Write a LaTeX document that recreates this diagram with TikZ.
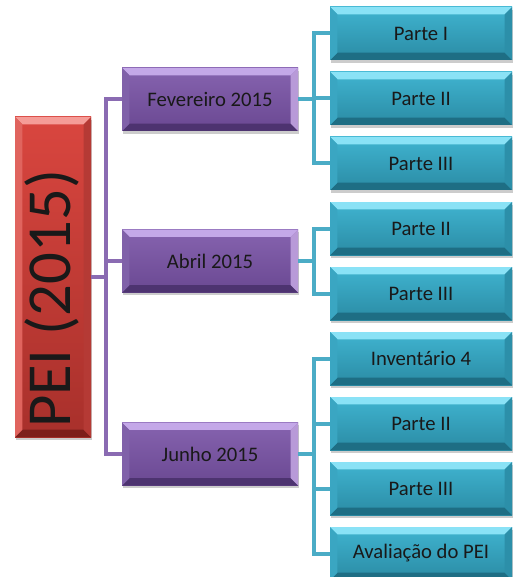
\documentclass[tikz,border=0pt]{standalone}
\usepackage{fontspec}
\setmainfont{Carlito}
\usetikzlibrary{shadows}
\definecolor{tealtop}{HTML}{40B4D0}
\definecolor{tealbot}{HTML}{2A8BA4}
\definecolor{teallight}{HTML}{8AE2F6}
\definecolor{tealdark}{HTML}{1E6E84}
\definecolor{tealleft}{HTML}{3AA6C2}
\definecolor{tealright}{HTML}{2C8FA9}
\definecolor{purtop}{HTML}{8663AF}
\definecolor{purbot}{HTML}{6A4892}
\definecolor{purlight}{HTML}{C4A8E8}
\definecolor{purdark}{HTML}{4D3370}
\definecolor{purleft}{HTML}{8061A9}
\definecolor{purright}{HTML}{B89AD8}
\definecolor{redtop}{HTML}{D9463F}
\definecolor{redbot}{HTML}{A8302B}
\definecolor{redlight}{HTML}{F59C97}
\definecolor{reddark}{HTML}{7D1F1B}
\definecolor{redleft}{HTML}{E0645E}
\definecolor{redright}{HTML}{B53A35}
\definecolor{pline}{HTML}{8A6BB2}
\definecolor{tline}{HTML}{4BACC6}
\tikzset{
  bevelbox/.style n args={6}{
    rectangle, inner sep=0pt, draw=none, top color=#1, bottom color=#2,
    drop shadow={shadow xshift=1pt, shadow yshift=-2pt, opacity=0.2, fill=black},
    path picture={
      \fill[#3] (path picture bounding box.north west) -- (path picture bounding box.north east)
        -- ([shift={(-5.5pt,-5.5pt)}]path picture bounding box.north east)
        -- ([shift={(5.5pt,-5.5pt)}]path picture bounding box.north west) -- cycle;
      \fill[#4] (path picture bounding box.south west) -- (path picture bounding box.south east)
        -- ([shift={(-5.5pt,5.5pt)}]path picture bounding box.south east)
        -- ([shift={(5.5pt,5.5pt)}]path picture bounding box.south west) -- cycle;
      \fill[#5] (path picture bounding box.north west) -- ([shift={(5.5pt,-5.5pt)}]path picture bounding box.north west)
        -- ([shift={(5.5pt,5.5pt)}]path picture bounding box.south west)
        -- (path picture bounding box.south west) -- cycle;
      \fill[#6] (path picture bounding box.north east) -- ([shift={(-5.5pt,-5.5pt)}]path picture bounding box.north east)
        -- ([shift={(-5.5pt,5.5pt)}]path picture bounding box.south east)
        -- (path picture bounding box.south east) -- cycle;
    }
  },
  tealbox/.style={bevelbox={tealtop}{tealbot}{teallight}{tealdark}{tealleft}{tealright},
    minimum width=136.5pt, minimum height=39.75pt, font=\fontsize{15.5}{17}\selectfont, text=black!90},
  purbox/.style={bevelbox={purtop}{purbot}{purlight}{purdark}{purleft}{purright},
    minimum width=132pt, minimum height=47.25pt, font=\fontsize{15.5}{17}\selectfont, text=black!90},
  redbox/.style={bevelbox={redtop}{redbot}{redlight}{reddark}{redleft}{redright},
    minimum width=57pt, minimum height=240pt},
  pconn/.style={draw=pline, line width=3pt},
  tconn/.style={draw=tline, line width=3pt}
}
\begin{document}
\begin{tikzpicture}[x=0.75pt,y=-0.75pt]
\useasboundingbox (0,0) rectangle (513,577);
% root
\node[redbox] (pei) at (53,277) {};
\node[rotate=90, font=\fontsize{47}{48}\selectfont, text=black!90, inner sep=0pt] (peitext) at (52,299) {PEI (2015)};
% months
\node[purbox] (feb) at (210,99.5) {Fevereiro 2015};
\node[purbox] (abr) at (210,261) {Abril 2015};
\node[purbox] (jun) at (210,454) {Junho 2015};
% parts
\node[tealbox] (f1) at (421,33.5) {Parte I};
\node[tealbox] (f2) at (421,98.5) {Parte II};
\node[tealbox] (f3) at (421,163.5) {Parte III};
\node[tealbox] (a1) at (421,228.5) {Parte II};
\node[tealbox] (a2) at (421,293.5) {Parte III};
\node[tealbox] (j1) at (421,358.5) {Inventário 4};
\node[tealbox] (j2) at (421,423.5) {Parte II};
\node[tealbox] (j3) at (421,488.5) {Parte III};
\node[tealbox] (j4) at (421,553.5) {Avaliação do PEI};
% connectors
\draw[pconn] (pei.east) -- ++(15,0) |- (feb.west);
\draw[pconn] (pei.east) -- ++(15,0) |- (abr.west);
\draw[pconn] (pei.east) -- ++(15,0) |- (jun.west);
\draw[tconn] (feb.east) -- ++(16,0) |- (f1.west);
\draw[tconn] (feb.east) -- ++(16,0) |- (f2.west);
\draw[tconn] (feb.east) -- ++(16,0) |- (f3.west);
\draw[tconn] (abr.east) -- ++(16,0) |- (a1.west);
\draw[tconn] (abr.east) -- ++(16,0) |- (a2.west);
\draw[tconn] (jun.east) -- ++(16,0) |- (j1.west);
\draw[tconn] (jun.east) -- ++(16,0) |- (j2.west);
\draw[tconn] (jun.east) -- ++(16,0) |- (j3.west);
\draw[tconn] (jun.east) -- ++(16,0) |- (j4.west);
\end{tikzpicture}
\end{document}
